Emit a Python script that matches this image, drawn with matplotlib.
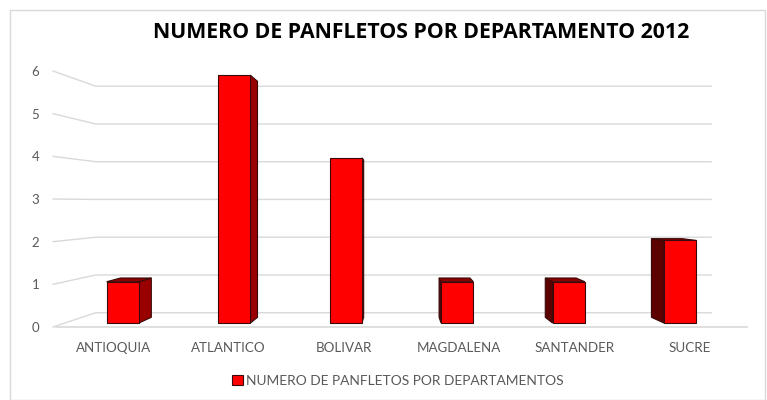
import matplotlib
matplotlib.use('Agg')
import matplotlib.pyplot as plt
from matplotlib.patches import Polygon, Rectangle
from matplotlib.lines import Line2D
from matplotlib.transforms import Affine2D, IdentityTransform

categories = ['ANTIOQUIA', 'ATLANTICO', 'BOLIVAR', 'MAGDALENA', 'SANTANDER', 'SUCRE']
values = [1, 6, 4, 1, 1, 2]
yticks = [0, 1, 2, 3, 4, 5, 6]
title = 'NUMERO DE PANFLETOS POR DEPARTAMENTO 2012'
legend_label = 'NUMERO DE PANFLETOS POR DEPARTAMENTOS'

W, H = 767, 400
fig = plt.figure(figsize=(W / 100, H / 100), dpi=100)
L, R = 56, 747
ytop0, ytop6 = 327, 71
ax = fig.add_axes([L / W, (H - ytop0) / H, (R - L) / W, (ytop0 - ytop6) / H])
ax.set_xlim(-0.5, 5.5)
ax.set_ylim(0, 6)
ax.set_autoscale_on(False)
ax.patch.set_alpha(0)
for s in ax.spines.values():
    s.set_visible(False)

vx, vy = 400, H - 203


def persp(f):
    return Affine2D().translate(-vx, -vy).scale(f).translate(vx, vy)


f_back, f1, f2 = 0.885, 0.968, 0.922
grid_c = '#D9D9D9'
Pb = persp(f_back)
for v in yticks:
    p_front = ax.transData.transform((-0.5, v))
    p_bl = Pb.transform(ax.transData.transform((-0.5, v)))
    p_br = Pb.transform(ax.transData.transform((5.5, v)))
    ax.add_line(Line2D([p_front[0] - 3, p_bl[0], p_br[0] + 4], [p_front[1], p_bl[1], p_br[1]],
                       transform=IdentityTransform(), color=grid_c, lw=1.0,
                       clip_on=False, zorder=0.5))
# floor front edge
ax.plot([-0.5, 5.5], [0, 0], color=grid_c, lw=1.2, clip_on=False, zorder=0.5)

w = 0.29
Tf = ax.transData + persp(f1)
Tb = ax.transData + persp(f2)
red = '#FF0000'
edge = '#3A0A0A'
for i, v in enumerate(values):
    xl, xr = i - w / 2, i + w / 2
    fl0, fl1 = Tf.transform((xl, 0)), Tf.transform((xl, v))
    fr0, fr1 = Tf.transform((xr, 0)), Tf.transform((xr, v))
    bl0, bl1 = Tb.transform((xl, 0)), Tb.transform((xl, v))
    br0, br1 = Tb.transform((xr, 0)), Tb.transform((xr, v))
    if fr0[0] < vx:
        ax.add_patch(Polygon([fr0, fr1, br1, br0], closed=True, transform=IdentityTransform(),
                             facecolor='#990000', edgecolor=edge, lw=0.8, clip_on=False, zorder=1))
    elif fl0[0] > vx:
        ax.add_patch(Polygon([fl0, fl1, bl1, bl0], closed=True, transform=IdentityTransform(),
                             facecolor='#5C0000', edgecolor=edge, lw=0.8, clip_on=False, zorder=1))
    if fl1[1] < vy:
        ax.add_patch(Polygon([fl1, fr1, br1, bl1], closed=True, transform=IdentityTransform(),
                             facecolor='#8B0000', edgecolor=edge, lw=0.8, clip_on=False, zorder=1))
    ax.bar(i, v, width=w, color=red, edgecolor=edge, linewidth=0.8, transform=Tf,
           clip_on=False, zorder=1.1)

tick_c = '#595959'
ax.set_xticks(range(len(categories)), categories)
ax.set_yticks(yticks)
ax.tick_params(axis='both', length=0, colors=tick_c, labelsize=9.5)
ax.tick_params(axis='x', labelsize=9.6)
ax.tick_params(axis='y', pad=12)
ax.tick_params(axis='x', pad=11)
for lab in ax.get_xticklabels() + ax.get_yticklabels():
    lab.set_family('Lato')

fig.text(421 / W, (H - 33) / H, title, ha='center', va='center', fontsize=15.3,
         fontweight='bold', family='Open Sans', color='#000000')

handle = Rectangle((0, 0), 1, 1, facecolor=red, edgecolor=edge, lw=0.8)
fig.legend([handle], [legend_label], loc='center', bbox_to_anchor=(398 / W, (H - 381) / H),
           frameon=False, handlelength=0.75, handleheight=0.75, handletextpad=0.25,
           prop={'family': 'Lato', 'size': 9.9}, labelcolor=tick_c)

fig.add_artist(Rectangle((10 / W, 0.5 / H), (765 - 10) / W, (390 - 0.5) / H,
                         transform=fig.transFigure, fill=False, edgecolor=grid_c, lw=1))

fig.savefig('out.png', dpi=100)
